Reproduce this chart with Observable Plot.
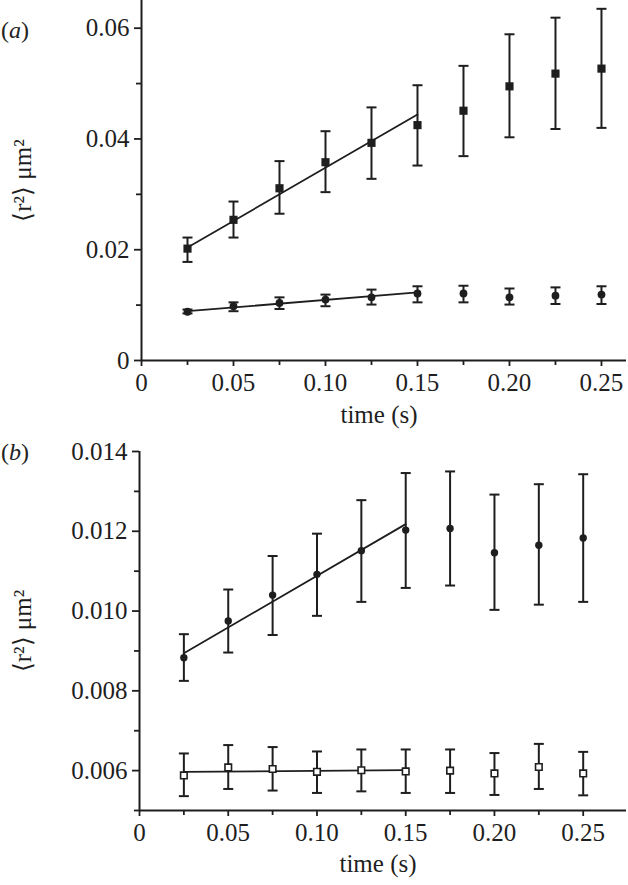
<!DOCTYPE html>
<html><head><meta charset="utf-8">
<script src="https://cdn.jsdelivr.net/npm/d3@7"></script>
<script src="https://cdn.jsdelivr.net/npm/@observablehq/plot@0.6"></script>
<style>
body{margin:0;background:#fff;font-family:"Liberation Serif","Times New Roman",serif;}
#wrap{position:relative;width:628px;height:885px;overflow:hidden;}
.panel{position:absolute;left:0;}
.panel svg text{font-family:"Liberation Serif","Times New Roman",serif !important;font-size:25px !important;}
.panel svg g[aria-label="ylab"] text{font-size:26px !important;}
.plabel{position:absolute;left:1px;font-size:24px;color:#222;font-family:"Liberation Serif",serif;line-height:1;}
</style></head><body>
<div id="wrap">
  <div class="panel" id="pa" style="top:0px"></div>
  <div class="panel" id="pb" style="top:430px"></div>
  <div class="plabel" style="top:18px">(<i>a</i>)</div>
  <div class="plabel" style="top:440px">(<i>b</i>)</div>
</div>
<script>
// ---------- data ----------
const time = [0.025, 0.05, 0.075, 0.1, 0.125, 0.15, 0.175, 0.2, 0.225, 0.25];

// panel (a) squares
const aSqMean = [0.0202, 0.0254, 0.0311, 0.0358, 0.0393, 0.0425, 0.0451, 0.0495, 0.0518, 0.0527];
const aSqLow  = [0.0178, 0.0222, 0.0265, 0.0304, 0.0328, 0.0352, 0.0369, 0.0403, 0.0418, 0.0420];
const aSqHigh = [0.0222, 0.0287, 0.0360, 0.0414, 0.0457, 0.0497, 0.0532, 0.0589, 0.0619, 0.0635];
// panel (a) circles
const aCiMean = [0.0088, 0.0098, 0.0104, 0.0110, 0.0114, 0.0121, 0.0121, 0.0114, 0.0117, 0.0119];
const aCiLow  = [0.0085, 0.0089, 0.0093, 0.0098, 0.0101, 0.0105, 0.0105, 0.0101, 0.0102, 0.0102];
const aCiHigh = [0.0092, 0.0105, 0.0114, 0.0119, 0.0128, 0.0134, 0.0135, 0.0130, 0.0132, 0.0134];
// fits (a)
const fitTime = [0.025, 0.15];
const aSqFit = [0.0204, 0.0444];
const aCiFit = [0.0089, 0.0123];

// panel (b) circles
const bCiMean = [0.00883, 0.00975, 0.01040, 0.01092, 0.01151, 0.01203, 0.01207, 0.01146, 0.01165, 0.01183];
const bCiLow  = [0.00825, 0.00896, 0.00940, 0.00988, 0.01023, 0.01058, 0.01064, 0.01003, 0.01016, 0.01023];
const bCiHigh = [0.00942, 0.01054, 0.01138, 0.01194, 0.01278, 0.01346, 0.01350, 0.01292, 0.01318, 0.01343];
// panel (b) open squares
const bSqMean = [0.00588, 0.00608, 0.00604, 0.00597, 0.00601, 0.00598, 0.00600, 0.00593, 0.00609, 0.00593];
const bSqLow  = [0.00536, 0.00554, 0.00550, 0.00544, 0.00548, 0.00544, 0.00544, 0.00539, 0.00554, 0.00538];
const bSqHigh = [0.00643, 0.00664, 0.00659, 0.00648, 0.00653, 0.00653, 0.00653, 0.00644, 0.00667, 0.00647];
// fits (b)
const bCiFit = [0.00894, 0.01218];
const bSqFit = [0.00597, 0.00601];

// ticks
const xMajor = [0, 0.05, 0.10, 0.15, 0.20, 0.25];
const xMinor = [0.025, 0.075, 0.125, 0.175, 0.225];
const aYMajor = [0, 0.02, 0.04, 0.06];
const aYMinor = [0.01, 0.03, 0.05];
const bYMajor = [0.006, 0.008, 0.010, 0.012, 0.014];
const bYMinor = [0.005, 0.007, 0.009, 0.011, 0.013];

const xLabel = "time (s)";
const yLabel = "\u27E8r\u00B2\u27E9 \u03BCm\u00B2";

// ---------- helpers ----------
const ink = "#1e1e1e";
const fs = 25;
const rows = (ys, lo, hi) => time.map((t, i) => ({t, y: ys[i], lo: lo[i], hi: hi[i]}));
const fitRows = (ys) => fitTime.map((t, i) => ({t, y: ys[i]}));
const cap = {draw(ctx, size) { const w = Math.sqrt(size / Math.PI); ctx.moveTo(-w, 0); ctx.lineTo(w, 0); }};
const fmtX = d => d === 0 ? "0" : d.toFixed(2);

function axes(yMajor, yMinor, yFmt, ylabDx, xlabDy) {
  return [
    Plot.axisX(xMajor, {tickSize: 6, tickPadding: 7, tickFormat: fmtX, fontSize: fs, stroke: ink, strokeWidth: 1.8, label: null, color: ink}),
    Plot.axisX(xMinor, {tickSize: 5, tickFormat: () => "", label: null, stroke: ink, strokeWidth: 1.8}),
    Plot.axisY(yMajor, {tickSize: 7, tickPadding: 5, tickFormat: yFmt, fontSize: fs, stroke: ink, strokeWidth: 1.8, label: null, color: ink}),
    Plot.axisY(yMinor, {tickSize: 5, tickFormat: () => "", label: null, stroke: ink, strokeWidth: 1.8}),
    Plot.text([xLabel], {text: d => d, frameAnchor: "bottom", textAnchor: "middle", lineAnchor: "middle", dy: xlabDy, dx: -5, fontSize: fs, fill: ink}),
    Plot.text([yLabel], {text: d => d, frameAnchor: "left", textAnchor: "middle", lineAnchor: "middle", dx: ylabDx, rotate: -90, fontSize: 26, fill: ink, ariaLabel: "ylab"})
  ];
}

function errMarks(data) {
  return [
    Plot.ruleX(data, {x: "t", y1: "lo", y2: "hi", stroke: ink, strokeWidth: 2}),
    Plot.dot(data, {x: "t", y: "lo", symbol: cap, r: 5, stroke: ink, strokeWidth: 2}),
    Plot.dot(data, {x: "t", y: "hi", symbol: cap, r: 5, stroke: ink, strokeWidth: 2})
  ];
}

// ---------- panel (a) ----------
const aSq = rows(aSqMean, aSqLow, aSqHigh);
const aCi = rows(aCiMean, aCiLow, aCiHigh);
const plotA = Plot.plot({
  width: 628, height: 430,
  marginTop: 0, marginBottom: 70, marginLeft: 141, marginRight: 2,
  style: {fontFamily: "'Liberation Serif', serif", fontSize: fs + "px", color: ink, background: "white", overflow: "visible"},
  x: {domain: [0, 0.2636]},
  y: {domain: [0, 0.065]},
  marks: [
    ...axes(aYMajor, aYMinor, d => d === 0 ? "0" : d.toFixed(2), -119, 54),
    Plot.ruleX([0], {stroke: ink, strokeWidth: 2}),
    Plot.ruleY([0], {stroke: ink, strokeWidth: 2}),
    Plot.line(fitRows(aSqFit), {x: "t", y: "y", stroke: ink, strokeWidth: 1.8}),
    Plot.line(fitRows(aCiFit), {x: "t", y: "y", stroke: ink, strokeWidth: 1.8}),
    ...errMarks(aSq),
    ...errMarks(aCi),
    Plot.dot(aSq, {x: "t", y: "y", symbol: "square", r: 4.6, fill: ink, stroke: "none"}),
    Plot.dot(aCi, {x: "t", y: "y", symbol: "circle", r: 3.9, fill: ink, stroke: "none"})
  ]
});
document.getElementById("pa").appendChild(plotA);

// ---------- panel (b) ----------
const bCi = rows(bCiMean, bCiLow, bCiHigh);
const bSq = rows(bSqMean, bSqLow, bSqHigh);
const plotB = Plot.plot({
  width: 628, height: 455,
  marginTop: 21, marginBottom: 75, marginLeft: 139, marginRight: 2,
  style: {fontFamily: "'Liberation Serif', serif", fontSize: fs + "px", color: ink, background: "white", overflow: "visible"},
  x: {domain: [0, 0.2744]},
  y: {domain: [0.005, 0.014]},
  marks: [
    ...axes(bYMajor, bYMinor, d => d.toFixed(3), -117, 53),
    Plot.ruleX([0], {stroke: ink, strokeWidth: 2}),
    Plot.ruleY([0.005], {stroke: ink, strokeWidth: 2}),
    Plot.line(fitRows(bCiFit), {x: "t", y: "y", stroke: ink, strokeWidth: 1.8}),
    Plot.line(fitRows(bSqFit), {x: "t", y: "y", stroke: ink, strokeWidth: 1.8}),
    ...errMarks(bCi),
    ...errMarks(bSq),
    Plot.dot(bCi, {x: "t", y: "y", symbol: "circle", r: 3.7, fill: ink, stroke: "none"}),
    Plot.dot(bSq, {x: "t", y: "y", symbol: "square", r: 3.7, fill: "white", stroke: ink, strokeWidth: 1.6})
  ]
});
document.getElementById("pb").appendChild(plotB);
</script>
</body></html>
